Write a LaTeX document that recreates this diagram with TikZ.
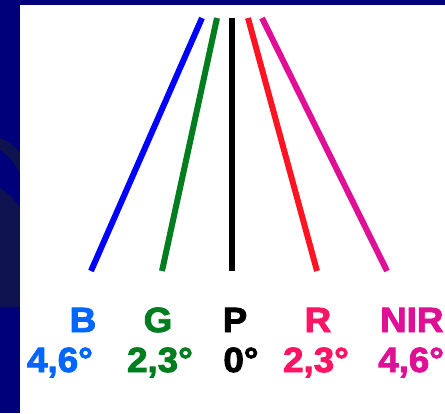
\documentclass[tikz,border=0pt]{standalone}
\usepackage{fontspec}
\setmainfont{Liberation Sans}
\newfontfamily\heavyfont{Liberation Sans}[BoldFeatures={FakeBold=2.5}, FakeStretch=1.05]
\usepackage{tikz}

\definecolor{slidenavy}{RGB}{0,0,122}
\definecolor{slidedark}{RGB}{14,18,78}
\definecolor{bandblue}{RGB}{0,0,255}
\definecolor{bandgreen}{RGB}{0,125,30}
\definecolor{bandred}{RGB}{255,20,35}
\definecolor{bandnir}{RGB}{224,16,150}
\definecolor{txtblue}{RGB}{0,102,255}
\definecolor{txtred}{RGB}{255,20,100}

\begin{document}
\begin{tikzpicture}[x=1pt, y=-1pt,
    ray/.style={line width=6pt},
    lbl/.style={font=\heavyfont\fontsize{35}{35}\selectfont\bfseries, inner sep=0pt}]
    \useasboundingbox (0,0) rectangle (445,413);
    \clip (0,0) rectangle (445,413);

    % slide background
    \fill[slidenavy] (0,0) rectangle (445,413);
    \fill[slidedark] (0,138) .. controls (8,141) and (15,146) .. (20,153)
        -- (20,173) .. controls (14,162) and (7,154) .. (0,150) -- cycle;
    \fill[slidedark] (0,188) .. controls (8,193) and (15,200) .. (20,208)
        -- (20,307) -- (0,307) -- cycle;
    \fill[white] (20,5) rectangle (445,413);

    % end points of the rays
    \coordinate (tB) at (202,18);   \coordinate (bB) at (91,271);
    \coordinate (tG) at (217,18);   \coordinate (bG) at (162,271);
    \coordinate (tP) at (232,18);   \coordinate (bP) at (232,271);
    \coordinate (tR) at (248,18);   \coordinate (bR) at (317,271);
    \coordinate (tN) at (262,18);   \coordinate (bN) at (387,271);

    \draw[ray, bandblue] (tB) -- (bB);
    \draw[ray, bandgreen] (tG) -- (bG);
    \draw[ray, black] (tP) -- (bP);
    \draw[ray, bandred] (tR) -- (bR);
    \draw[ray, bandnir] (tN) -- (bN);

    % band names
    \node[lbl, anchor=base, text=txtblue] (nB) at (83,332) {B};
    \node[lbl, anchor=base, text=bandgreen] (nG) at (158,332) {G};
    \node[lbl, anchor=base, text=black] (nP) at (235,332) {P};
    \node[lbl, anchor=base, text=txtred] (nR) at (318,332) {R};
    \node[lbl, anchor=base west, text=bandnir] (nN) at (380,332) {NIR};

    % view angles
    \node[lbl, anchor=base, text=txtblue] (aB) at (60,372) {4,6°};
    \node[lbl, anchor=base, text=bandgreen] (aG) at (160,372) {2,3°};
    \node[lbl, anchor=base, text=black] (aP) at (241,372) {0°};
    \node[lbl, anchor=base, text=txtred] (aR) at (316,372) {2,3°};
    \node[lbl, anchor=base west, text=bandnir] (aN) at (378,372) {4,6°};
\end{tikzpicture}
\end{document}
